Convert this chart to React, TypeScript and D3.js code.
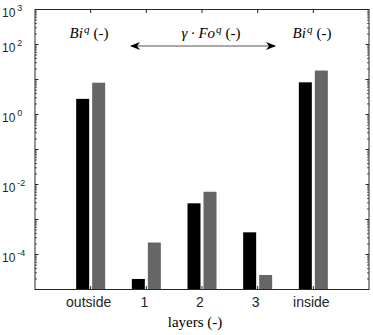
import * as React from 'react';
import * as d3 from 'd3';

// layer values, two series (black / gray)
const categories = ['outside', '1', '2', '3', 'inside'];
const seriesA = [2.8, 2.0e-5, 2.9e-3, 4.3e-4, 8.3];
const seriesB = [8.1, 2.2e-4, 6.2e-3, 2.6e-5, 18];
const yLabelExps = [3, 2, 0, -2, -4];

const W = 373;
const H = 335;
const colors = ['#000000', '#666666'];
const axisColor = '#262626';
const serif = { fontFamily: "'Liberation Serif', 'Times New Roman', serif" };
const sans = { fontFamily: "'Liberation Sans', Arial, Helvetica, sans-serif" };

export default function App() {
  const x = d3.scaleLinear().domain([0, categories.length + 1]).range([35, 369]);
  const y = d3.scaleLog().domain([1e-5, 1e3]).range([289.5, 9.5]);
  const barW = 13;
  const offs = [-8, 8];

  const minor = y.ticks().filter((t) => {
    const e = Math.log10(t);
    return Math.abs(e - Math.round(e)) > 1e-9;
  });
  const decades = d3.range(-5, 4).map((e) => Math.pow(10, e));

  const [x0, x1] = x.range();
  const [yb, yt] = y.range();

  const supQ = (
    <>
      <tspan style={{ fontStyle: 'italic' }} fontSize={11} dx={1} dy={-5}>q</tspan>
      <tspan dx={4} dy={5}>(-)</tspan>
    </>
  );

  return (
    <svg width={W} height={H} style={{ position: 'absolute', left: 0, top: 0 }}>
      <defs>
        <marker id="ah" viewBox="0 0 10 8" refX="9" refY="4" markerWidth="10" markerHeight="8"
          markerUnits="userSpaceOnUse" orient="auto-start-reverse">
          <path d="M0,0 L10,4 L0,8 L3,4 Z" fill="#000" />
        </marker>
      </defs>
      <rect x={0} y={0} width={W} height={H} fill="#fff" />

      {/* bars */}
      {[seriesA, seriesB].map((s, si) =>
        s.map((v, i) => (
          <rect key={`${si}-${i}`} x={x(i + 1) + offs[si] - barW / 2} y={y(v)}
            width={barW} height={yb - y(v)} fill={colors[si]} />
        ))
      )}

      {/* axes box */}
      <rect x={x0} y={yt} width={x1 - x0} height={yb - yt} fill="none" stroke={axisColor} strokeWidth={1} />

      {/* y ticks, left & right */}
      {minor.map((t, i) => (
        <g key={`m${i}`} stroke={axisColor} strokeWidth={0.8}>
          <line x1={x0} x2={x0 + 2} y1={y(t)} y2={y(t)} />
          <line x1={x1} x2={x1 - 2} y1={y(t)} y2={y(t)} />
        </g>
      ))}
      {decades.map((t, i) => (
        <g key={`d${i}`} stroke={axisColor} strokeWidth={1}>
          <line x1={x0} x2={x0 + 3.5} y1={y(t)} y2={y(t)} />
          <line x1={x1} x2={x1 - 3.5} y1={y(t)} y2={y(t)} />
        </g>
      ))}
      {yLabelExps.map((e) => (
        <text key={`l${e}`} x={2} y={y(Math.pow(10, e)) + 7} style={sans} fontSize={12} fill="#262626">
          10<tspan dx={2} dy={-6} fontSize={9}>{e}</tspan>
        </text>
      ))}

      {/* x ticks top & bottom */}
      {categories.map((c, i) => (
        <g key={c}>
          <line x1={x(i + 1)} x2={x(i + 1)} y1={yb} y2={yb - 3.5} stroke={axisColor} />
          <line x1={x(i + 1)} x2={x(i + 1)} y1={yt} y2={yt + 3.5} stroke={axisColor} />
          <text x={x(i + 1) - 2} y={307} textAnchor="middle" style={sans} fontSize={14} fill="#262626">{c}</text>
        </g>
      ))}
      <text x={195} y={327} textAnchor="middle" style={serif} fontSize={15} fill="#000">layers (-)</text>

      {/* annotations */}
      <text x={89} y={38} textAnchor="middle" style={serif} fontSize={15} fill="#000">
        <tspan style={{ fontStyle: 'italic' }}>Bi</tspan>
        {supQ}
      </text>
      <text x={312} y={38} textAnchor="middle" style={serif} fontSize={15} fill="#000">
        <tspan style={{ fontStyle: 'italic' }}>Bi</tspan>
        {supQ}
      </text>
      <text x={211} y={38} textAnchor="middle" style={serif} fontSize={15} fill="#000">
        <tspan style={{ fontStyle: 'italic' }}>γ</tspan>
        <tspan dx={3}>·</tspan>
        <tspan dx={3} style={{ fontStyle: 'italic' }}>Fo</tspan>
        {supQ}
      </text>
      <line x1={131} x2={275} y1={46} y2={46} stroke="#555" strokeWidth={1}
        markerStart="url(#ah)" markerEnd="url(#ah)" />
    </svg>
  );
}
